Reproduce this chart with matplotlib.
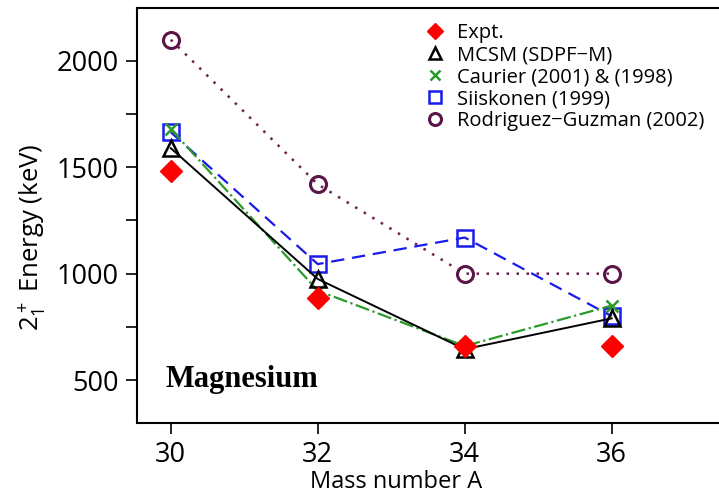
import matplotlib
matplotlib.use("Agg")
import matplotlib.pyplot as plt
from matplotlib.ticker import MultipleLocator

A = [30, 32, 34, 36]
expt = [1482, 885, 660, 660]
mcsm = [1590, 975, 645, 790]
caurier = [1680, 920, 660, 850]
siiskonen = [1665, 1045, 1170, 800]
rodriguez = [2100, 1420, 1000, 1000]

plt.rcParams['font.family'] = ['Open Sans', 'DejaVu Sans']
plt.rcParams['mathtext.fontset'] = 'custom'
plt.rcParams['mathtext.rm'] = 'Open Sans'
plt.rcParams['mathtext.it'] = 'Open Sans'
fig = plt.figure(figsize=(7.19, 5.0), dpi=100)
ax = fig.add_axes([137/719, 1 - 423/500, (719 - 137)/719 + 0.02, (423 - 8)/500])

ax.plot(A, expt, linestyle='none', marker='D', color='#ff0000', markersize=11, label='Expt.', zorder=6)
ax.plot(A, mcsm, linestyle='-', color='black', lw=1.4, marker='^', mfc='none', mec='black',
        markersize=12, mew=1.8, label='MCSM (SDPF\u2212M)', zorder=5)
ax.plot(A, caurier, linestyle='-.', color='#2a9a2a', lw=1.6, marker='x', markersize=9, mew=1.8,
        label='Caurier (2001) & (1998)', zorder=4)
ax.plot(A, siiskonen, linestyle=(0, (6, 3.5)), color='#1a1aee', lw=1.6, marker='s', mfc='none', mec='#1a1aee',
        markersize=11, mew=1.8, label='Siiskonen (1999)', zorder=3)
ax.plot(A, rodriguez, linestyle=(0, (1, 3)), color='#6b1f4f', lw=1.8, marker='o', mfc='none', mec='#5a1546',
        markersize=11.5, mew=2.2, label='Rodriguez\u2212Guzman (2002)', zorder=2)

ax.set_xlim(29.54, 30 + (719 - 171) / 73.5 + 0.2)
ax.set_ylim(298, 2249)
ax.set_xticks(A)
ax.yaxis.set_major_locator(MultipleLocator(500))
ax.yaxis.set_minor_locator(MultipleLocator(250))
ax.tick_params(axis='both', which='both', direction='out', labelsize=19.5, width=1.2)
ax.tick_params(axis='both', which='major', length=8, pad=5)
ax.tick_params(axis='y', which='minor', length=8)
for s in ax.spines.values():
    s.set_linewidth(1.5)
ax.spines['right'].set_visible(False)

fig.text(396/719, 1 - 482/500, 'Mass number A', fontsize=17, ha='center', va='center')
fig.text(33/719, 1 - 237/500, '$2^+_1$ Energy (keV)', fontsize=18.5, ha='center', va='center', rotation=90)

ax.text(165/719, 1 - 380/500, 'Magnesium', transform=fig.transFigure, fontsize=22, fontweight='bold',
        family='Liberation Serif', va='center', ha='left')

leg = ax.legend(loc='upper left', bbox_to_anchor=(421/719, 1 - 9/500), bbox_transform=fig.transFigure,
                frameon=False, fontsize=14.5, handlelength=0, handletextpad=1.1, labelspacing=0.1,
                borderpad=0.2, markerscale=0.75)

fig.savefig('out.png', dpi=100)
